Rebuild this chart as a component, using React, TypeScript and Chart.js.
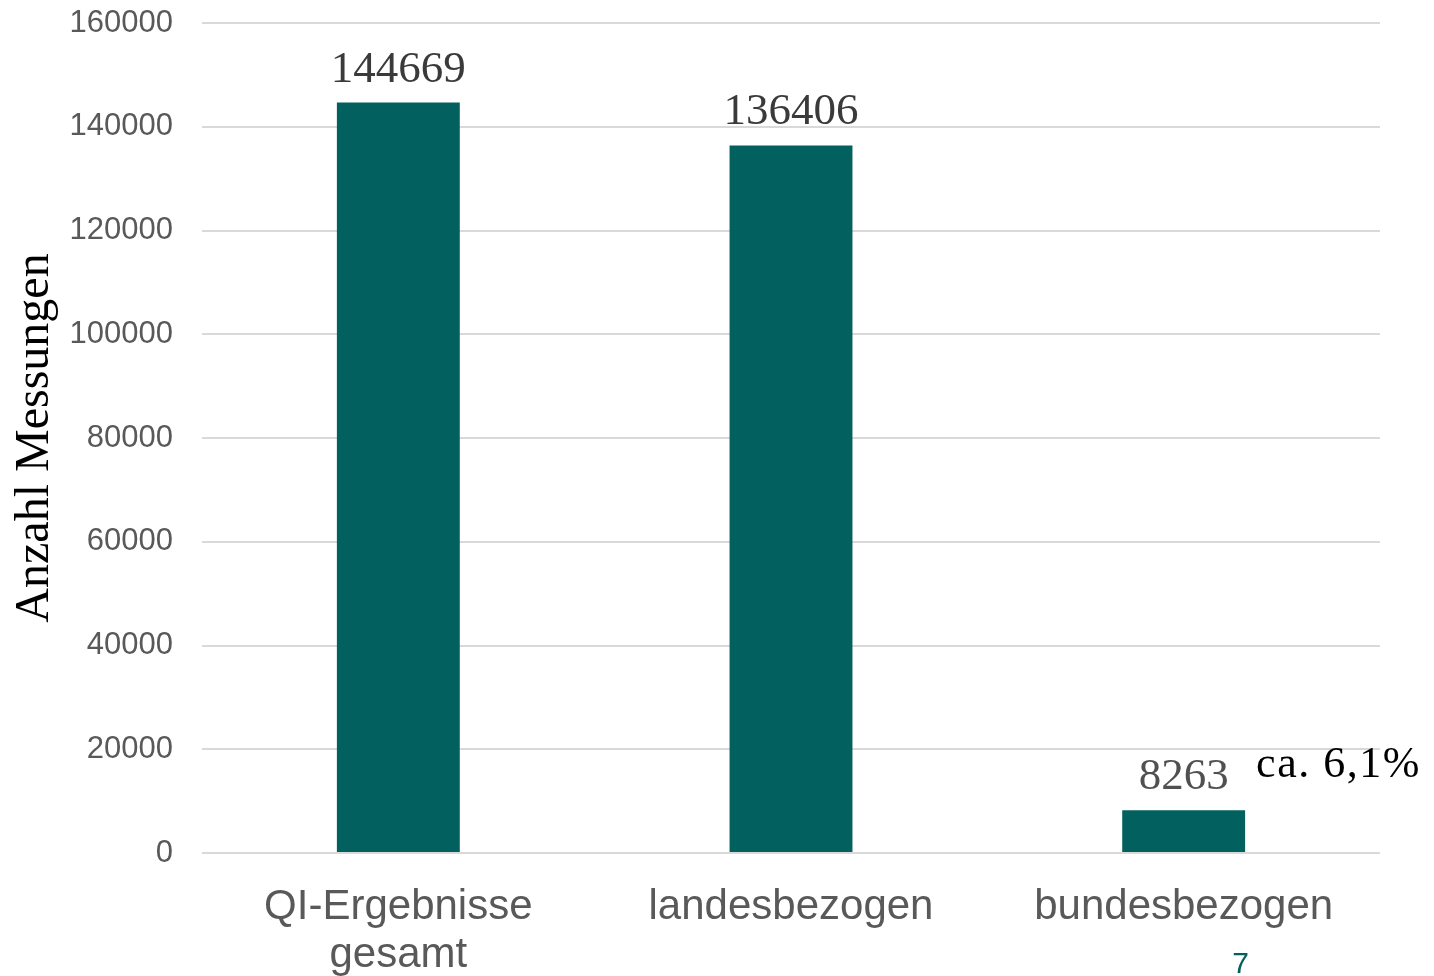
import React, { useEffect, useRef } from "react";
import { Chart, registerables } from "chart.js";

Chart.register(...registerables);

const categories: (string | string[])[] = [["QI-Ergebnisse", "gesamt"], "landesbezogen", "bundesbezogen"];
const values: number[] = [144669, 136406, 8263];
const valueLabelColors: string[] = ["#3a3a3a", "#3a3a3a", "#505050"];
const yMin = 0;
const yMax = 160000;
const yStep = 20000;
const yTitle = "Anzahl Messungen";
const shareNote = "ca. 6,1%";
const pageNumber = "7";

const BAR = "#02615F";

const labelsPlugin = {
  id: "valueLabels",
  afterDatasetsDraw(chart: any) {
    const ctx = chart.ctx as CanvasRenderingContext2D;
    const meta = chart.getDatasetMeta(0);
    ctx.save();
    ctx.font = '45px "Liberation Serif", "Times New Roman", serif';
    ctx.textAlign = "center";
    ctx.textBaseline = "alphabetic";
    meta.data.forEach((bar: any, i: number) => {
      ctx.fillStyle = valueLabelColors[i];
      ctx.fillText(String(values[i]), bar.x, bar.y - 21);
    });
    // note next to last bar
    const last = meta.data[meta.data.length - 1];
    ctx.font = '44px "Liberation Serif", "Times New Roman", serif';
    ctx.fillStyle = "#000000";
    ctx.textAlign = "left";
    (ctx as any).letterSpacing = "1.5px";
    ctx.fillText(shareNote, last.x + last.width / 2 + 11, last.y - 33);
    (ctx as any).letterSpacing = "0px";
    // page number
    ctx.font = '30px "Liberation Sans", Arial, sans-serif';
    ctx.fillStyle = BAR;
    ctx.textAlign = "center";
    ctx.textBaseline = "alphabetic";
    ctx.fillText(pageNumber, last.x + 57, chart.height - 3);
    ctx.restore();
  },
};

export default function App() {
  const ref = useRef<HTMLCanvasElement>(null);
  useEffect(() => {
    if (!ref.current) return;
    const chart = new Chart(ref.current, {
      type: "bar",
      data: {
        labels: categories as any,
        datasets: [
          {
            data: values,
            backgroundColor: BAR,
            borderWidth: 0,
            categoryPercentage: 1,
            barPercentage: 0.313,
          },
        ],
      },
      options: {
        animation: false,
        responsive: false,
        maintainAspectRatio: false,
        layout: { padding: { top: 23, right: 54, left: 0, bottom: 0 } },
        plugins: {
          legend: { display: false },
          tooltip: { enabled: false },
        },
        scales: {
          x: {
            grid: { display: false },
            border: { display: false },
            ticks: {
              color: "#595959",
              font: { family: '"Liberation Sans", Arial, sans-serif', size: 42, lineHeight: 1.15 },
              padding: 22,
              maxRotation: 0,
              autoSkip: false,
            },
            afterFit: (s: any) => {
              s.height = 123;
              s.paddingLeft = 0;
              s.paddingRight = 0;
            },
          },
          y: {
            min: yMin,
            max: yMax,
            grid: { color: "#d9d9d9", lineWidth: 2, drawTicks: false },
            border: { display: false },
            ticks: {
              stepSize: yStep,
              color: "#595959",
              font: { family: '"Liberation Sans", Arial, sans-serif', size: 31 },
              padding: 29,
              callback: (v: any) => String(v),
            },
            title: {
              display: true,
              text: yTitle,
              color: "#000000",
              font: { family: '"Liberation Serif", "Times New Roman", serif', size: 48, lineHeight: 1.2 },
              padding: { top: 7, bottom: 0 },
            },
            afterFit: (s: any) => {
              s.width = 202;
              s.paddingTop = 0;
              s.paddingBottom = 0;
            },
          },
        },
      },
      plugins: [labelsPlugin],
    });
    return () => chart.destroy();
  }, []);
  return (
    <div style={{ position: "fixed", left: 0, top: 0, width: 1434, height: 976, background: "#fff" }}>
      <canvas ref={ref} width={1434} height={976} style={{ display: "block" }} />
    </div>
  );
}
